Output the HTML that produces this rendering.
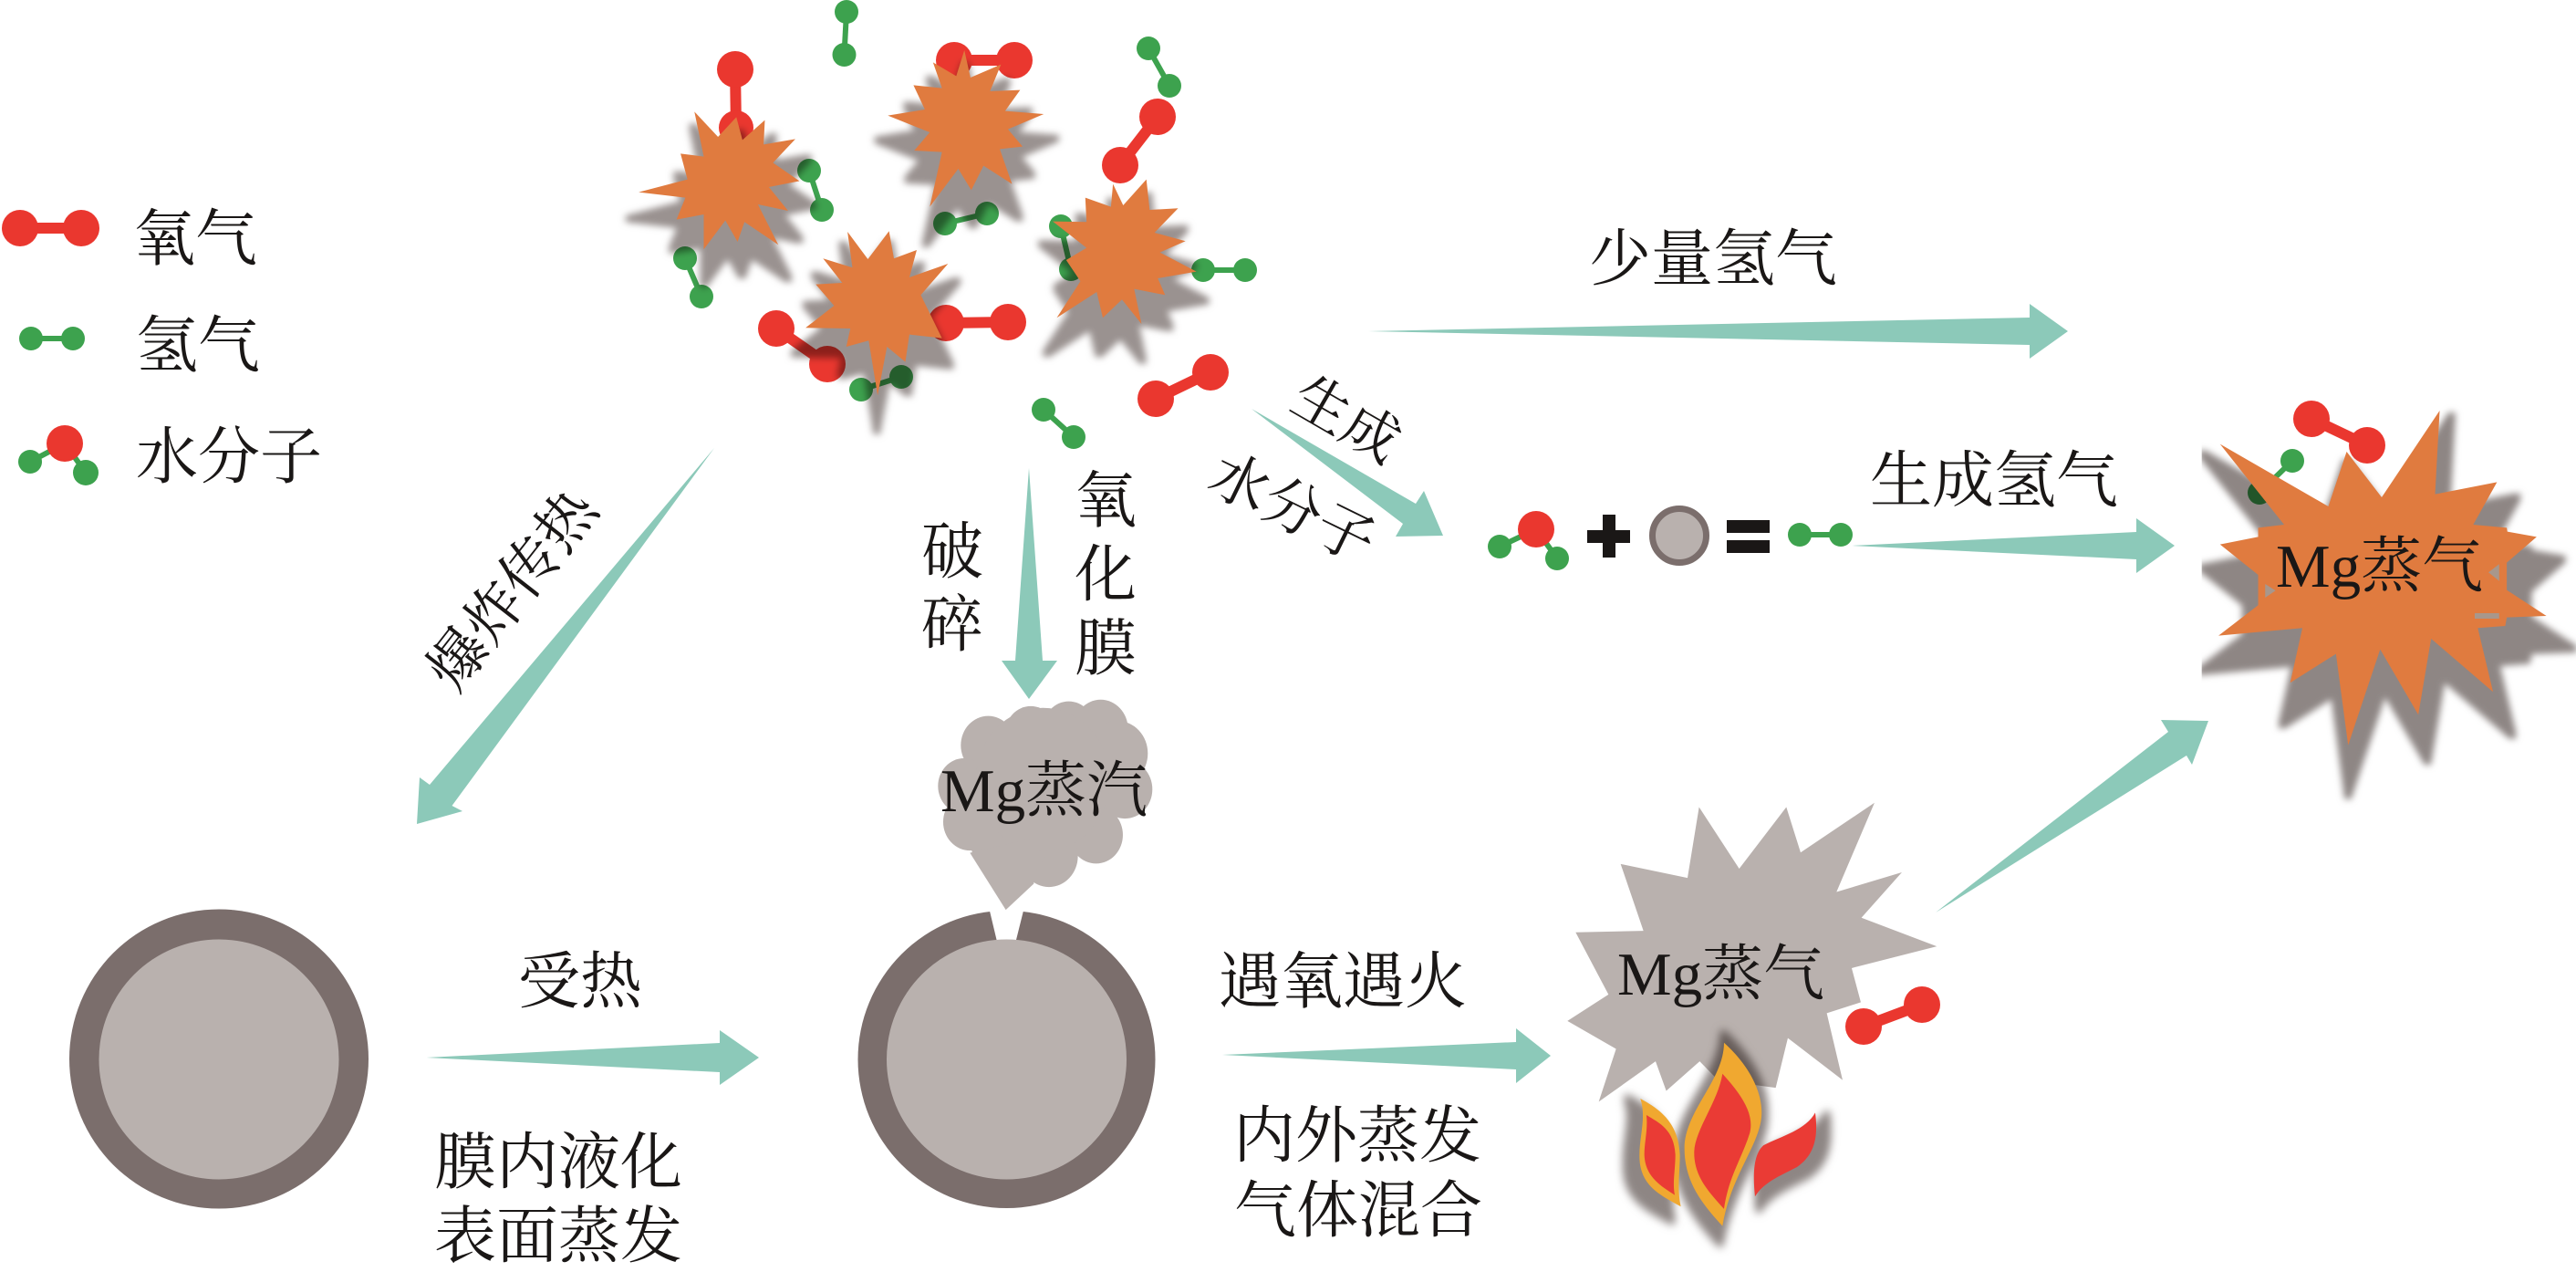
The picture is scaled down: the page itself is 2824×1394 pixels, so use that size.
<!DOCTYPE html>
<html lang="zh">
<head>
<meta charset="utf-8">
<title>Mg diagram</title>
<style>
html,body{margin:0;padding:0;background:#fff;width:2824px;height:1394px;overflow:hidden}
svg{display:block}
text{font-family:"Liberation Serif","Noto Serif CJK SC","Noto Serif CJK JP",serif;fill:#1a1716}
.t{font-size:68px}
.r1{font-size:62px}
.r2{font-size:64px}
.m{font-size:67px}
.sh{mix-blend-mode:multiply}
.o{stroke:#ea372f;fill:none;stroke-width:12}
.h{stroke:#3da24e;fill:none;stroke-width:6}
.rd{fill:#ea372f}
.gr{fill:#3da24e}
.ar{fill:#8cc9b9}
</style>
</head>
<body>
<svg xmlns="http://www.w3.org/2000/svg" width="2824" height="1394" viewBox="0 0 2824 1394">
<defs>
<filter id="b1" x="-30%" y="-30%" width="160%" height="160%"><feMorphology operator="dilate" radius="7 9"/><feGaussianBlur stdDeviation="8 10"/></filter>
<filter id="b2" x="-30%" y="-30%" width="160%" height="160%"><feMorphology operator="dilate" radius="9 9"/><feGaussianBlur stdDeviation="10 10"/></filter>
<filter id="b3" x="-30%" y="-30%" width="160%" height="160%"><feMorphology operator="dilate" radius="8 8"/><feGaussianBlur stdDeviation="12 12"/></filter>
<clipPath id="cl"><rect x="340" y="0" width="1300" height="1500"/></clipPath>
<polygon id="sa" points="45,632 165,590 148,505 205,515 182,367 240,450 285,385 300,460 355,395 352,475 430,457 375,535 440,595 365,615 412,693 338,672 388,805 305,730 288,795 258,725 205,820 205,705 138,722 160,650"/>
<polygon id="sb" points="845,165 860,255 935,212 908,300 982,296 945,365 1040,375 952,425 988,482 932,490 962,605 892,545 862,625 830,555 760,680 790,500 722,495 760,435 657,380 748,360 720,280 790,290 768,205 825,250"/>
<polygon id="sc" points="558,762 608,852 660,760 672,850 728,822 710,912 805,867 738,970 790,1112 710,1100 700,1190 655,1140 632,1300 610,1120 555,1140 565,1080 455,1078 525,1005 480,935 545,930 498,850 570,880"/>
<polygon id="sd" points="1210,605 1235,675 1292,590 1300,690 1370,685 1312,765 1388,793 1325,830 1415,893 1320,915 1338,970 1262,950 1280,1065 1232,985 1185,1045 1170,960 1072,1045 1130,925 1095,855 1145,815 1062,728 1145,730 1142,650 1205,680"/>
<polygon id="big" points="400,260 755,465 815,285 930,435 1120,150 1105,425 1308,385 1230,525 1340,535 1342,548 1438,565 1340,650 1340,740 1470,825 1340,830 1335,858 1245,865 1295,1075 1092,900 1050,1150 925,935 820,1250 780,950 630,1045 670,865 395,890 525,790 525,690 400,590 525,565 525,535 610,525"/>
<path id="fc" d="M720,830 C800,900 860,1000 840,1090 C820,1180 740,1270 715,1420 C650,1350 590,1280 590,1170 C590,1050 720,950 720,830Z"/>
<path id="fl" d="M445,1010 C500,1040 570,1080 575,1190 C575,1250 565,1300 578,1357 C510,1320 440,1290 442,1190 C442,1130 465,1070 445,1010Z"/>
<path id="fr" d="M1020,1055 C1030,1130 1020,1190 960,1230 C900,1260 850,1280 822,1325 C815,1260 815,1190 850,1160 C910,1130 990,1110 1020,1055Z"/>
</defs>
<rect width="2824" height="1394" fill="#fff"/>

<!-- legend -->
<line x1="22" y1="250" x2="89" y2="250" class="o"/><circle cx="22" cy="250" r="20" class="rd"/><circle cx="89" cy="250" r="20" class="rd"/>
<line x1="34" y1="371" x2="80" y2="371" class="h"/><circle cx="34" cy="371" r="13" class="gr"/><circle cx="80" cy="371" r="13" class="gr"/>
<line x1="33" y1="506" x2="71" y2="486" class="h"/><line x1="94" y1="518" x2="71" y2="486" class="h"/><circle cx="71" cy="486" r="20" class="rd"/><circle cx="33" cy="506" r="13" class="gr"/><circle cx="94" cy="518" r="14" class="gr"/>
<text class="t" x="146" y="285">氧气</text>
<text class="t" x="149" y="402">氢气</text>
<text class="t" x="149" y="524">水分子</text>

<!-- cluster molecules -->
<g class="h">
<line x1="928" y1="13" x2="925.5" y2="60"/><line x1="887" y1="187" x2="901" y2="230"/><line x1="751" y1="283" x2="769" y2="325"/>
<line x1="1259" y1="53" x2="1282" y2="94"/><line x1="1036" y1="245" x2="1082" y2="234"/><line x1="1163" y1="248" x2="1174" y2="295"/>
<line x1="1319" y1="296" x2="1365" y2="296"/><line x1="944" y1="427" x2="988" y2="413"/><line x1="1144" y1="449" x2="1177" y2="479"/>
</g>
<g class="o">
<line x1="806" y1="76" x2="807" y2="140"/><line x1="1046" y1="66" x2="1112" y2="66"/><line x1="1269" y1="128" x2="1228" y2="181"/>
<line x1="851" y1="360" x2="907" y2="399"/><line x1="1037" y1="354" x2="1105" y2="353"/><line x1="1327" y1="408" x2="1267" y2="437"/>
</g>
<g class="gr">
<circle cx="928" cy="13" r="13"/><circle cx="925.5" cy="60" r="13"/><circle cx="887" cy="187" r="13"/><circle cx="901" cy="230" r="13"/>
<circle cx="751" cy="283" r="13"/><circle cx="769" cy="325" r="13"/><circle cx="1259" cy="53" r="13"/><circle cx="1282" cy="94" r="13"/>
<circle cx="1036" cy="245" r="13"/><circle cx="1082" cy="234" r="13"/><circle cx="1163" cy="248" r="13"/><circle cx="1174" cy="295" r="13"/>
<circle cx="1319" cy="296" r="13"/><circle cx="1365" cy="296" r="13"/><circle cx="944" cy="427" r="13"/><circle cx="988" cy="413" r="13"/>
<circle cx="1144" cy="449" r="13"/><circle cx="1177" cy="479" r="13"/>
</g>
<g class="rd">
<circle cx="806" cy="76" r="20"/><circle cx="807" cy="140" r="19"/><circle cx="1046" cy="66" r="20"/><circle cx="1112" cy="66" r="20"/>
<circle cx="1269" cy="128" r="20"/><circle cx="1228" cy="181" r="20"/><circle cx="851" cy="360" r="20"/><circle cx="907" cy="399" r="20"/>
<circle cx="1037" cy="354" r="20"/><circle cx="1105" cy="353" r="20"/><circle cx="1327" cy="408" r="20"/><circle cx="1267" cy="437" r="20"/>
</g>

<!-- cluster stars -->
<g transform="translate(680,0) scale(.4464,.3333)">
<use href="#sa" class="sh" fill="#9a9290" filter="url(#b1)" transform="matrix(1.15,0,0,1.15,-32,-7)"/>
<use href="#sb" class="sh" fill="#9a9290" filter="url(#b1)" transform="matrix(1.15,0,0,1.15,-125,23)"/>
<use href="#sc" class="sh" fill="#9a9290" filter="url(#b1)" transform="matrix(1.15,0,0,1.15,-97,-75)"/>
<use href="#sd" class="sh" fill="#9a9290" filter="url(#b1)" transform="matrix(1.15,0,0,1.15,-188,-37)"/>
<use href="#sa" fill="#e07b3f"/><use href="#sb" fill="#e07b3f"/><use href="#sc" fill="#e07b3f"/><use href="#sd" fill="#e07b3f"/>
</g>

<!-- arrows -->
<polygon class="ar" points="1500,363 2225,348 2225,333 2267,363 2225,393 2225,378"/>
<polygon class="ar" points="1372,448 1552,552 1561,538 1582,587 1530,588 1538,574"/>
<polygon class="ar" points="2030,598 2342,583 2342,568 2384,598 2342,628 2342,613"/>
<polygon class="ar" points="783,491 495.5,883 507,889 457,903 460,852 471,860"/>
<polygon class="ar" points="1128,513 1143,724 1159,724 1128,766 1098,724 1113,724"/>
<polygon class="ar" points="467.5,1159 789,1143 789,1129 832,1159 789,1189 789,1175"/>
<polygon class="ar" points="1340,1156 1662,1142 1662,1127 1700,1157 1662,1187 1662,1172"/>
<polygon class="ar" points="2122,1000 2377,802 2369,789 2421,790 2403,838 2397,828"/>

<!-- arrow labels -->
<text class="t" x="1742" y="307">少量氢气</text>
<text class="t" x="2050" y="550">生成氢气</text>
<text class="r1" text-anchor="middle" transform="translate(1477,458) rotate(30)" y="23">生成</text>
<text class="r2" text-anchor="middle" transform="translate(1418,555) rotate(26)" y="24">水分子</text>
<text class="r2" text-anchor="middle" transform="translate(560,645) rotate(-52)" y="24">爆炸传热</text>
<text class="t" text-anchor="middle" x="1044" y="628">破</text>
<text class="t" text-anchor="middle" x="1044" y="708">碎</text>
<text class="t" text-anchor="middle" x="1212" y="572">氧</text>
<text class="t" text-anchor="middle" x="1212" y="653">化</text>
<text class="t" text-anchor="middle" x="1212" y="734">膜</text>
<text class="t" x="568" y="1099">受热</text>
<text class="t" x="476" y="1297">膜内液化</text>
<text class="t" x="476" y="1378">表面蒸发</text>
<text class="t" x="1336" y="1099">遇氧遇火</text>
<text class="t" x="1352" y="1268">内外蒸发</text>
<text class="t" x="1353" y="1350">气体混合</text>

<!-- equation -->
<line x1="1644" y1="599" x2="1684" y2="580" class="h"/><line x1="1707" y1="612" x2="1684" y2="580" class="h"/>
<circle cx="1684" cy="580" r="20" class="rd"/><circle cx="1644" cy="599" r="13" class="gr"/><circle cx="1707" cy="612" r="13" class="gr"/>
<rect x="1740" y="581" width="47" height="14" fill="#1a1716"/><rect x="1757" y="564" width="14" height="47" fill="#1a1716"/>
<circle cx="1841" cy="587" r="29.5" fill="#b9b1ae" stroke="#7b6e6c" stroke-width="7"/>
<rect x="1893" y="570" width="47" height="14" fill="#1a1716"/><rect x="1893" y="592" width="47" height="14" fill="#1a1716"/>
<line x1="1973" y1="586" x2="2018" y2="586" class="h"/><circle cx="1973" cy="586" r="13" class="gr"/><circle cx="2018" cy="586" r="13" class="gr"/>

<!-- large orange star -->
<line x1="2534" y1="459" x2="2595" y2="488" class="o"/><circle cx="2534" cy="459" r="20" class="rd"/><circle cx="2595" cy="488" r="20" class="rd"/>
<line x1="2513" y1="505" x2="2477" y2="540" class="h"/><circle cx="2513" cy="505" r="13" class="gr"/><circle cx="2477" cy="540" r="13" class="gr"/>
<g transform="translate(2300,400) scale(.3344,.3333)">
<g clip-path="url(#cl)" class="sh"><use href="#big" fill="#8e8684" filter="url(#b2)" transform="matrix(1.14,0,0,1.14,-116,-6)"/></g>
<use href="#big" fill="#e07b3f"/>
<polygon points="548,720 582,742 548,765" fill="#a8978c"/>
<polygon points="1315,655 1280,682 1315,710" fill="#a8978c"/>
<rect x="1235" y="816" width="80" height="18" fill="#a8978c"/>
</g>
<text class="m" x="2495" y="643">Mg蒸气</text>

<!-- left droplet -->
<circle cx="240" cy="1160.5" r="164" fill="#7b6e6c"/><circle cx="240" cy="1161" r="131.5" fill="#b9b1ae"/>

<!-- middle droplet with cloud -->
<circle cx="1103.5" cy="1161" r="163" fill="#7b6e6c"/>
<polygon points="1083,990 1093.5,1034 1113,1034 1124,990" fill="#fff"/>
<circle cx="1103.5" cy="1161" r="131.5" fill="#b9b1ae"/>
<g transform="translate(900,740) scale(.3333,.3571)" fill="#b9b1ae">
<circle cx="550" cy="215" r="90"/><circle cx="690" cy="180" r="85"/><circle cx="815" cy="165" r="85"/><circle cx="920" cy="165" r="90"/>
<circle cx="975" cy="240" r="100"/><circle cx="470" cy="340" r="85"/><circle cx="1000" cy="350" r="90"/><circle cx="490" cy="450" r="88"/>
<circle cx="905" cy="490" r="88"/><circle cx="750" cy="555" r="95"/><circle cx="620" cy="500" r="130"/><circle cx="730" cy="320" r="220"/>
<polygon points="490,545 608,720 700,640 700,500"/>
</g>
<text class="m" x="1031" y="889">Mg蒸汽</text>

<!-- grey star + flames -->
<line x1="2043" y1="1125" x2="2107" y2="1101" class="o"/><circle cx="2043" cy="1125" r="20" class="rd"/><circle cx="2107" cy="1101" r="20" class="rd"/>
<g transform="translate(1650,860) scale(.3333,.3406)">
<polygon fill="#b9b1ae" points="638,72 770,270 925,72 972,218 1215,58 1090,345 1305,282 1172,428 1420,520 1140,590 1170,700 1058,735 1110,950 930,815 890,975 700,950 640,890 530,985 495,890 308,1020 365,850 205,760 340,675 232,475 455,470 380,255 600,300"/>
<g class="sh" filter="url(#b3)" fill="#8e8684" transform="matrix(1.15,0,0,1.15,-113,-155)">
<use href="#fc"/><use href="#fl"/><use href="#fr"/>
</g>
<use href="#fl" fill="#f0a830"/><use href="#fc" fill="#f0a830"/>
<path fill="#ea3b35" d="M465,1063 C510,1090 555,1110 560,1190 C560,1240 550,1280 558,1320 C510,1290 460,1260 458,1190 C458,1150 470,1110 465,1063Z"/>
<path fill="#ea3b35" d="M715,930 C780,1000 820,1060 805,1120 C780,1200 735,1260 720,1365 C670,1310 620,1260 622,1180 C625,1110 700,1020 715,930Z"/>
<use href="#fr" fill="#ea3b35"/>
</g>
<text class="m" x="1773" y="1090">Mg蒸气</text>
</svg>
</body>
</html>
